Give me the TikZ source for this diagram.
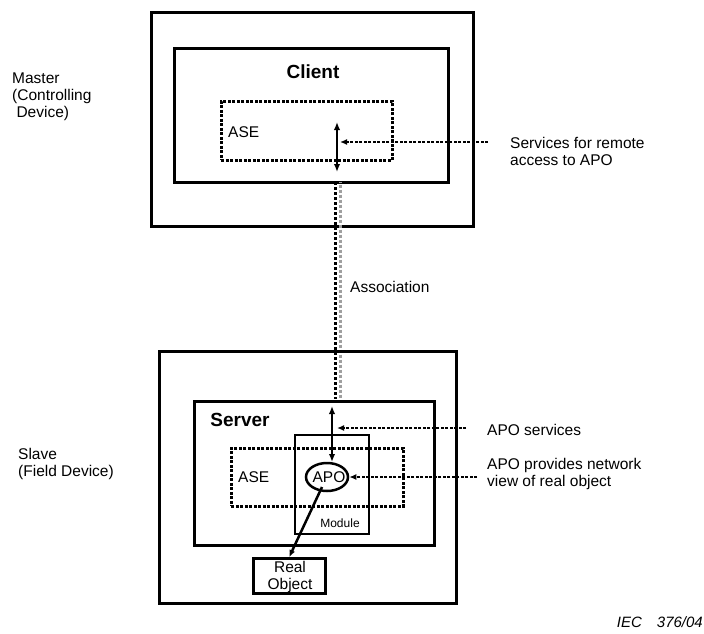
\documentclass[tikz,border=0pt]{standalone}
\usepackage{fontspec}
\setmainfont{Liberation Sans}
\usetikzlibrary{arrows.meta,shapes.geometric}
\tikzset{
  frame/.style={draw, line width=2.5pt, inner sep=0pt, anchor=north west},
  asebox/.style={draw, line width=2.5pt, dash pattern=on 3pt off 1.5pt, inner sep=0pt, anchor=north west},
  txt/.style={font=\fontsize{15.5}{17}\selectfont, inner sep=0pt, align=left},
  title/.style={font=\fontsize{19}{21}\selectfont\bfseries, inner sep=0pt},
  svc/.style={line width=2.5pt, dash pattern=on 3pt off 1.5pt, -{Latex[length=7pt,width=6pt]}},
  link/.style={line width=2.5pt, {Latex[length=8pt,width=6.5pt]}-{Latex[length=8pt,width=6.5pt]}},
  assoc/.style={line width=3pt, dash pattern=on 3pt off 2pt}
}
\begin{document}
\begin{tikzpicture}[x=1pt,y=-1pt]
\useasboundingbox (0,0) rectangle (704,633);
% master side
\node[frame, minimum width=322pt, minimum height=214pt] (master) at (150,11) {};
\node[frame, minimum width=274pt, minimum height=134pt] (client) at (173,47) {};
\node[asebox, minimum width=171pt, minimum height=59pt] (ase1) at (220,100) {};
\node[title] (clientlbl) at (313,72) {Client};
\node[txt, anchor=west] (ase1lbl) at (228,132) {ASE};
\node[txt, anchor=west] (masterlbl) at (12,97) {Master\\(Controlling\\\ Device)};
\node[txt, anchor=west] (remote) at (510,151) {Services for remote\\access to APO};
\coordinate (c1) at (337,122);
\coordinate (c2) at (337,172);
\coordinate (remotetip) at (488,142);
\coordinate (remoteend) at (340,142);
\draw[link] (c1) -- (c2);
\draw[svc] (remotetip) -- (remoteend);
% association
\coordinate (a1) at (335.5,182);
\coordinate (a2) at (335.5,399);
\coordinate (b1) at (340.5,182);
\coordinate (b2) at (340.5,399);
\draw[assoc, black] (a1) -- (a2);
\draw[assoc, gray!75, dash phase=2.5pt] (b1) -- (b2);
\node[txt, anchor=west] (assoclbl) at (350,287) {Association};
% slave side
\node[frame, minimum width=297pt, minimum height=252pt] (slave) at (158,350) {};
\node[frame, minimum width=240pt, minimum height=144pt] (server) at (193,400) {};
\node[asebox, minimum width=172pt, minimum height=58pt] (ase2) at (230,447) {};
\node[frame, line width=2pt, minimum width=74pt, minimum height=99pt] (module) at (294,434) {};
\node[draw, ellipse, line width=2.5pt, minimum width=42pt, minimum height=28pt, inner sep=0pt] (apo) at (327,477) {};
\node[txt] (apolbl) at (329,477) {APO};
\node[txt, font=\fontsize{12}{13}\selectfont] (modlbl) at (340,523) {Module};
\node[title] (serverlbl) at (240,420) {Server};
\node[txt, anchor=west] (ase2lbl) at (238,477) {ASE};
\node[frame, minimum width=72pt, minimum height=35pt] (real) at (252,557) {};
\node[txt, align=center] (reallbl) at (290,577) {Real\\Object};
\node[txt, anchor=west] (slavelbl) at (18,464) {Slave\\(Field Device)};
\node[txt, anchor=west] (apolbl2) at (487,430) {APO services};
\node[txt, anchor=west] (provides) at (487,474) {APO provides network\\view of real object};
\coordinate (s1) at (332,406);
\coordinate (s2) at (332,462);
\draw[link] (s1) -- (s2);
\coordinate (apotip) at (466,428);
\coordinate (apoend) at (337,428);
\draw[svc] (apotip) -- (apoend);
\coordinate (provtip) at (477,477);
\draw[svc] (provtip) -- (apo.east);
\coordinate (r1) at (322,487);
\draw[line width=2.5pt, -{Latex[length=7pt,width=6pt]}] (r1) -- (real.north);
\node[txt, anchor=east, font=\fontsize{15}{17}\selectfont\itshape] (iec) at (703,622) {IEC\hspace{15pt}376/04};
\end{tikzpicture}
\end{document}
